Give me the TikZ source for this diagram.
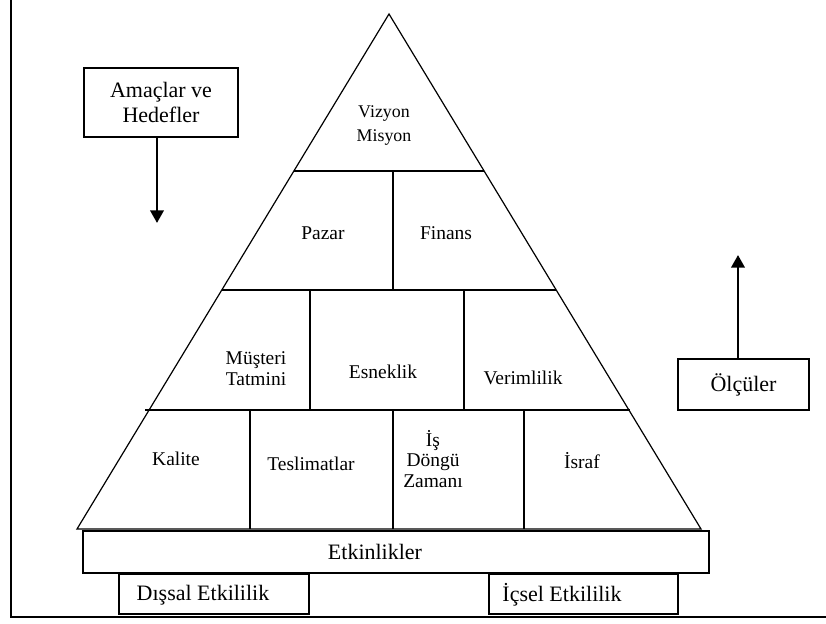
\documentclass[tikz,border=0pt]{standalone}
\usepackage{fontspec}
\setmainfont{Liberation Serif}
\usetikzlibrary{arrows.meta}
\begin{document}
\begin{tikzpicture}[x=0.75pt,y=-0.75pt,
  thin/.style={draw=black,line width=0.9pt},
  frameline/.style={draw=black,line width=1.4pt},
  box/.style={draw=black,line width=0.9pt,inner sep=0pt},
  arr/.style={draw=black,line width=2pt,-{Triangle[length=9.5pt,width=10pt]}},
  lbl/.style={font=\fontsize{14.6}{15.8}\selectfont,align=center,inner sep=0pt},
  toplbl/.style={font=\fontsize{13.4}{18}\selectfont,align=center,inner sep=0pt},
  boxlbl/.style={font=\fontsize{16.5}{18.8}\selectfont,align=center,inner sep=0pt}]
\useasboundingbox (0,0) rectangle (826,624);

% outer frame (left and bottom edges)
\draw[frameline] (11,0) -- (11,617) -- (826,617);

% pyramid outline
\coordinate (apex) at (389,14);
\coordinate (bl) at (77,529);
\coordinate (br) at (701,529);
\draw[thin] (apex) -- (bl) -- (br) -- cycle;

% level dividers
\draw[thin] (294,171) -- (484,171);
\draw[thin] (222,290) -- (556,290);
\draw[thin] (145,410) -- (630,410);

% cell dividers
\draw[thin] (393,171) -- (393,290);
\draw[thin] (310,290) -- (310,410);
\draw[thin] (464,290) -- (464,410);
\draw[thin] (250,410) -- (250,529);
\draw[thin] (393,410) -- (393,529);
\draw[thin] (524,410) -- (524,529);

% pyramid cell labels
\node[toplbl] (vizyon) at (384,126) {Vizyon\\Misyon};
\node[lbl] (pazar) at (323,233) {Pazar};
\node[lbl] (finans) at (446,233) {Finans};
\node[lbl] (musteri) at (256,369) {Müşteri\\Tatmini};
\node[lbl] (esneklik) at (383,372) {Esneklik};
\node[lbl] (verim) at (523,378) {Verimlilik};
\node[lbl] (kalite) at (176,459) {Kalite};
\node[lbl] (teslim) at (311,464) {Teslimatlar};
\node[lbl,font=\fontsize{14.6}{15.5}\selectfont] (dongu) at (433,459) {İş\\Döngü\\Zamanı};
\node[lbl] (israf) at (582,461) {İsraf};

% base boxes
\node[box,minimum width=469.5pt,minimum height=31.5pt] (etkbox) at (396,552) {};
\node[boxlbl] (etk) at (375,552) {Etkinlikler};
\node[box,minimum width=142.5pt,minimum height=30pt] (disbox) at (214,594) {};
\node[boxlbl] (dis) at (203,595) {Dışsal Etkililik};
\node[box,minimum width=141.75pt,minimum height=30pt] (icbox) at (583.5,594) {};
\node[boxlbl] (ic) at (562,595) {İçsel Etkililik};

% side boxes with arrows
\node[box,boxlbl,minimum width=115.5pt,minimum height=51.75pt] (amac) at (161,102.5) {Amaçlar ve\\Hedefler};
\coordinate (amactip) at (157,223);
\draw[arr] (amactip |- amac.south) -- (amactip);

\node[box,boxlbl,minimum width=98.25pt,minimum height=38.25pt] (olcu) at (743.5,384.5) {Ölçüler};
\coordinate (olcutip) at (738,255);
\draw[arr] (olcutip |- olcu.north) -- (olcutip);
\end{tikzpicture}
\end{document}
